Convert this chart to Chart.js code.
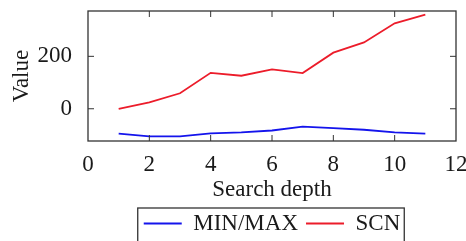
<!DOCTYPE html>
<html>
<head>
<meta charset="utf-8">
<script src="https://cdn.jsdelivr.net/npm/chart.js@4/dist/chart.umd.min.js"></script>
<style>
html,body{margin:0;padding:0;background:#fff;}
#wrap{width:466px;height:241px;}
</style>
</head>
<body>
<div id="wrap"><canvas id="c" width="466" height="241"></canvas></div>
<script>
const depth = [1, 2, 3, 4, 5, 6, 7, 8, 9, 10, 11];
const minmax = [-95, -105, -105, -94, -90, -83, -68, -74, -80, -90, -95];
const scn = [0, 24, 59, 137, 126, 150, 136, 214, 253, 326, 359];
const xTicks = [0, 2, 4, 6, 8, 10, 12];
const yTicks = [0, 200];

const FONT = "'Liberation Serif', 'DejaVu Serif', serif";
const FS = 23;
const TXT = '#1a1a1a';

const framePlugin = {
  id: 'frame',
  afterDatasetsDraw(chart) {
    const {ctx, chartArea: a, scales} = chart;
    ctx.save();
    ctx.strokeStyle = '#333';
    ctx.lineWidth = 1.3;
    ctx.strokeRect(a.left, a.top, a.right - a.left, a.bottom - a.top);
    const L = 6;
    ctx.lineWidth = 1;
    ctx.beginPath();
    scales.x.ticks.forEach(t => {
      const px = scales.x.getPixelForValue(t.value);
      if (px <= a.left + 1 || px >= a.right - 1) return;
      ctx.moveTo(px, a.bottom); ctx.lineTo(px, a.bottom - L);
      ctx.moveTo(px, a.top); ctx.lineTo(px, a.top + L);
    });
    scales.y.ticks.forEach(t => {
      const py = scales.y.getPixelForValue(t.value);
      ctx.moveTo(a.left, py); ctx.lineTo(a.left + L, py);
      ctx.moveTo(a.right, py); ctx.lineTo(a.right - L, py);
    });
    ctx.stroke();
    const lg = chart.legend;
    if (lg && lg.legendHitBoxes && lg.legendHitBoxes.length) {
      const items = lg.legendHitBoxes;
      const left = items[0].left - 6;
      const last = items[items.length - 1];
      const right = last.left + last.width + 4;
      ctx.lineWidth = 1.3;
      ctx.strokeRect(left, a.bottom + 67, right - left, 50);
    }
    ctx.restore();
  }
};

new Chart(document.getElementById('c'), {
  type: 'line',
  data: {
    datasets: [
      {label: 'MIN/MAX', data: depth.map((d, i) => ({x: d, y: minmax[i]})), borderColor: '#1414ec', backgroundColor: '#1414ec', borderWidth: 1.8, pointRadius: 0, tension: 0},
      {label: 'SCN', data: depth.map((d, i) => ({x: d, y: scn[i]})), borderColor: '#ec1c2a', backgroundColor: '#ec1c2a', borderWidth: 1.8, pointRadius: 0, tension: 0}
    ]
  },
  options: {
    responsive: false,
    animation: false,
    events: [],
    layout: {padding: {top: 0, left: 0, right: 0, bottom: -4}},
    plugins: {
      tooltip: {enabled: false},
      legend: {
        position: 'bottom',
        fullSize: false,
        labels: {
          usePointStyle: true,
          pointStyle: 'line',
          pointStyleWidth: 38,
          boxHeight: FS,
          font: {family: FONT, size: FS},
          color: TXT,
          padding: 8
        }
      }
    },
    scales: {
      x: {
        type: 'linear', min: 0, max: 12,
        afterBuildTicks: s => { s.ticks = xTicks.map(v => ({value: v})); },
        afterFit: s => { s.height = 63; s.paddingRight = 10; s.paddingLeft = 0; },
        grid: {display: false},
        border: {display: false},
        ticks: {font: {family: FONT, size: FS}, color: TXT, padding: 2, maxRotation: 0},
        title: {display: true, text: 'Search depth', font: {family: FONT, size: FS}, color: TXT, padding: {top: 0, bottom: 0}}
      },
      y: {
        type: 'linear', min: -123, max: 373,
        afterBuildTicks: s => { s.ticks = yTicks.map(v => ({value: v})); },
        afterFit: s => { s.width = 88; s.paddingTop = 11; s.paddingBottom = 0; },
        grid: {display: false},
        border: {display: false},
        ticks: {font: {family: FONT, size: FS}, color: TXT, padding: 8},
        title: {display: true, text: 'Value', font: {family: FONT, size: FS}, color: TXT, padding: {top: 8, bottom: 0}}
      }
    }
  },
  plugins: [framePlugin]
});
</script>
</body>
</html>
